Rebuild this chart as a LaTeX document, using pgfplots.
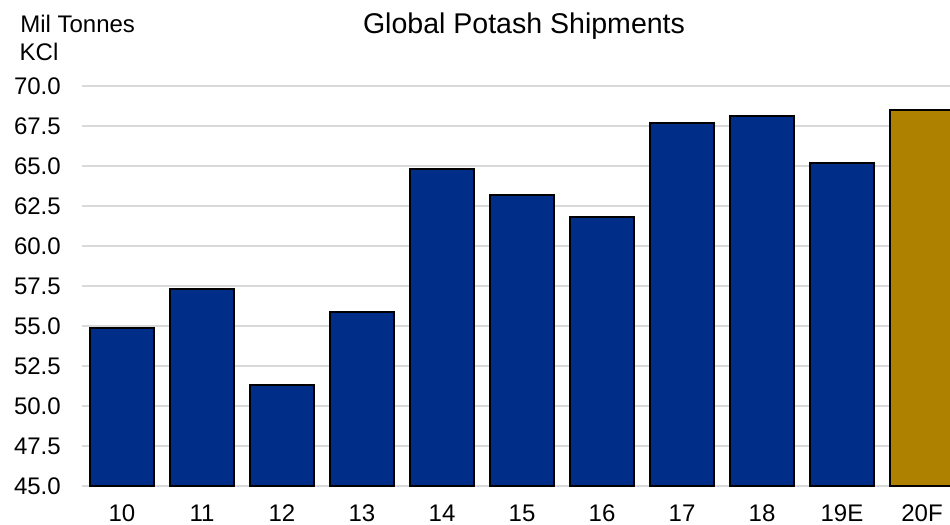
\documentclass[border=0pt]{standalone}
\usepackage{pgfplots}
\pgfplotsset{compat=1.18}
\usepackage{fontspec}
\setmainfont{Liberation Sans}
\definecolor{barblue}{RGB}{0,45,135}
\definecolor{bargold}{RGB}{174,130,0}
\definecolor{gridgray}{RGB}{217,217,217}
\begin{document}
\begin{tikzpicture}
\path[use as bounding box] (0pt,0pt) rectangle (712.5pt,393.75pt);
\begin{axis}[
  at={(61.5pt,29.25pt)}, anchor=south west,
  scale only axis, width=651pt, height=300pt,
  xmin=-0.5, xmax=10.35, ymin=45, ymax=70,
  ybar, bar width=48pt, bar shift=0pt,
  xtick={0,...,10},
  xticklabels={10,11,12,13,14,15,16,17,18,19E,20F},
  ytick={45,47.5,...,70},
  /pgf/number format/.cd, fixed, fixed zerofill, precision=1, assume math mode=true,
  /pgfplots/.cd,
  ymajorgrids, grid style={draw=gridgray, line width=1.1pt},
  axis line style={draw=none},
  major tick length=0pt,
  tick label style={font=\fontsize{18}{21}\selectfont},
  xticklabel style={inner sep=0pt, anchor=north, yshift=-14pt},
  yticklabel style={inner sep=0pt, anchor=east, xshift=-15.75pt},
]
\addplot[fill=barblue, draw=black, line width=1.5pt] coordinates {
  (0,54.9) (1,57.3) (2,51.3) (3,55.9) (4,64.8)
  (5,63.2) (6,61.8) (7,67.7) (8,68.1) (9,65.2)
};
\addplot[fill=bargold, draw=black, line width=1.5pt] coordinates {
  (10,68.5)
};
\end{axis}
\node[anchor=base, inner sep=0pt, font=\fontsize{21.4}{25}\selectfont] at (393pt,368.25pt) {Global Potash Shipments};
\node[anchor=base west, inner sep=0pt, font=\fontsize{18}{21}\selectfont] at (15pt,369pt) {Mil Tonnes};
\node[anchor=base west, inner sep=0pt, font=\fontsize{18}{21}\selectfont] at (14.6pt,348pt) {KCl};
\end{tikzpicture}
\end{document}
